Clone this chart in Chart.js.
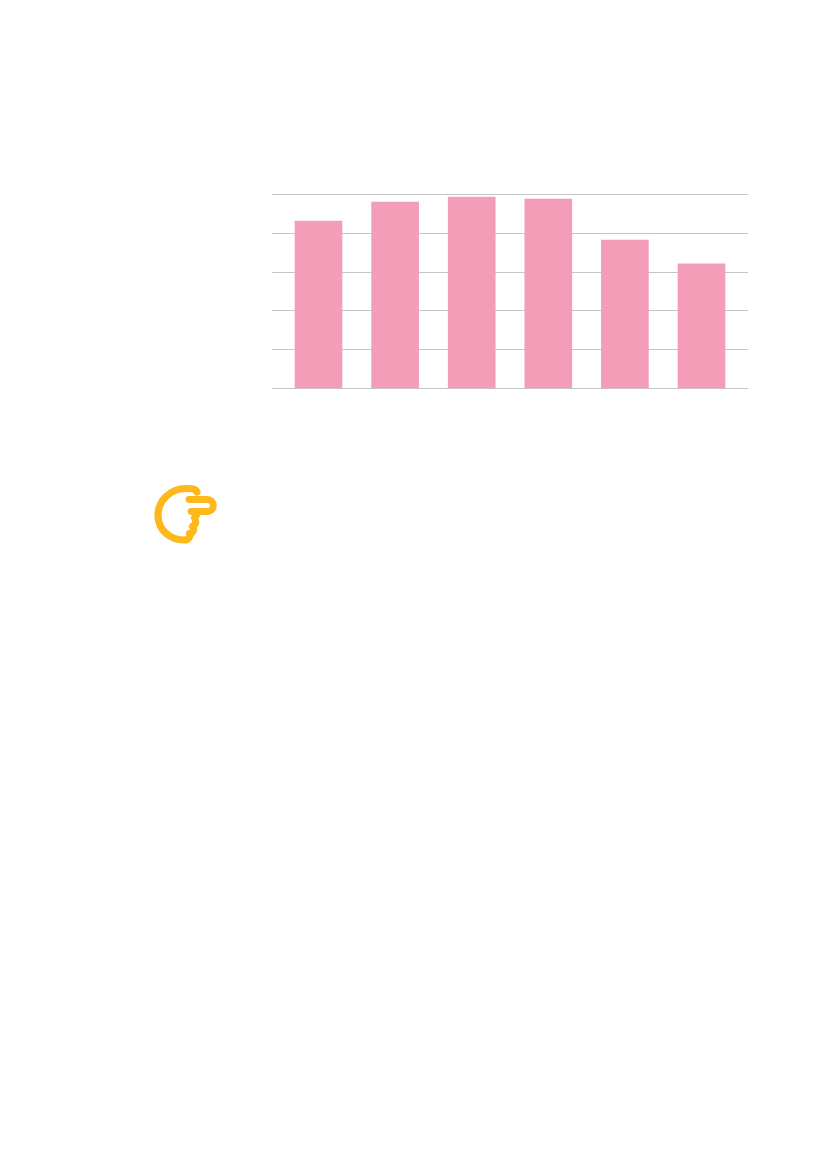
<!DOCTYPE html>
<html>
<head>
<meta charset="utf-8">
<title>Bar chart</title>
<script src="https://cdn.jsdelivr.net/npm/chart.js@4"></script>
<style>
    html, body { margin: 0; padding: 0; background: #ffffff; }
    body { position: relative; width: 827px; height: 1169px; overflow: hidden; }
    #chartBox { position: absolute; left: 262px; top: 184px; width: 496px; height: 215px; }
    #pointer { position: absolute; left: 140px; top: 475px; }
</style>
</head>
<body>
<div id="chartBox"><canvas id="barChart"></canvas></div>

<!-- pointing hand icon under the chart -->
<svg id="pointer" width="90" height="80" viewBox="140 475 90 80">
    <path d="M197 492 C195.5 488.5 192 488.5 186 488.5 C170 488.5 158 501 158 515.5 C158 530 170 540 184 540 C189 540 190.5 536.5 189.5 533.5 C193.5 533 194.5 529 192.5 526.5 C196 524.5 196.5 520.5 194.5 518 L197 514"
          fill="none" stroke="#fdb81c" stroke-width="7.2" stroke-linecap="round" stroke-linejoin="round"/>
    <path d="M189 499.5 L207 499.5 C215.5 499.5 215.5 511.5 207 511.5 L191 511.5"
          fill="none" stroke="#fdb81c" stroke-width="6.8" stroke-linecap="round" stroke-linejoin="round"/>
</svg>

<script>
const barSlots = [0, 1, 2, 3, 4, 5];
const barValues = [86.3, 96.1, 98.7, 97.7, 76.5, 64.3];
const yTicks = [0, 20, 40, 60, 80, 100];

const pink = "#f39db8";
const gridGrey = "#c6c6c6";

new Chart(document.getElementById("barChart").getContext("2d"), {
    type: "bar",
    data: {
        datasets: [{
            data: barSlots.map((slot, i) => ({ x: slot, y: barValues[i] })),
            backgroundColor: pink,
            borderWidth: 0,
            barThickness: 47,
        }],
    },
    options: {
        responsive: true,
        maintainAspectRatio: false,
        animation: false,
        layout: { padding: { left: 10, right: 10, top: 10.5, bottom: 10.5 } },
        plugins: { legend: { display: false }, tooltip: { enabled: false } },
        scales: {
            x: {
                type: "linear",
                display: false,
                offset: false,
                min: -0.607,
                max: 5.607,
                grid: { display: false, offset: false },
            },
            y: {
                min: 0,
                max: 100,
                afterBuildTicks: (axis) => {
                    axis.ticks = yTicks.map(v => ({ value: v }));
                },
                ticks: { display: false },
                grid: { color: gridGrey, lineWidth: 1, drawTicks: false },
                border: { display: false },
            },
        },
    },
});
</script>
</body>
</html>
